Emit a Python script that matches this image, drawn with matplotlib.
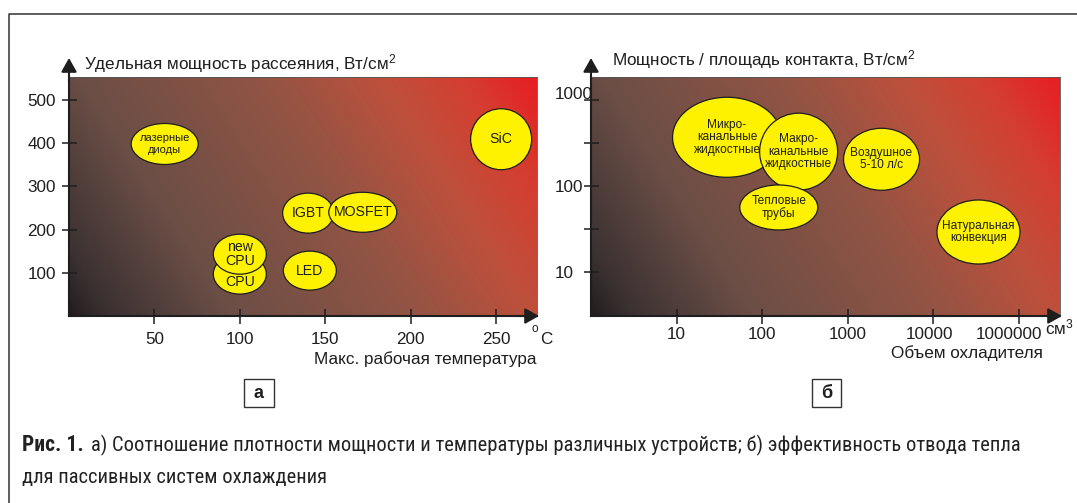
import numpy as np
import matplotlib
matplotlib.use("Agg")
import matplotlib.pyplot as plt
from matplotlib.patches import Ellipse, Rectangle
from matplotlib.lines import Line2D
from matplotlib.transforms import ScaledTranslation
from matplotlib.colors import LinearSegmentedColormap
from matplotlib import font_manager

# ---------------- data ----------------
# (a) power density vs. max operating temperature
temp_ticks = [50, 100, 150, 200, 250]
density_ticks = [100, 200, 300, 400, 500]
devices = ["лазерные\nдиоды", "SiC", "IGBT", "MOSFET", "CPU", "new\nCPU", "LED"]
device_temp = [56, 253, 140, 172, 100, 100, 141]
device_density = [398, 409, 238, 240, 97, 143, 105]

# (b) heat flux vs. coolant volume
volume_ticks = [10, 100, 1000, 10000, 100000]
volume_labels = ["10", "100", "1000", "10000", "1000000"]
flux_ticks = [10, 100, 1000]
flux_minor = [10 ** 1.5, 10 ** 2.5]
coolers = ["Микро-\nканальные\nжидкостные", "Макро-\nканальные\nжидкостные",
           "Тепловые\nтрубы", "Воздушное\n5-10 л/с", "Натуральная\nконвекция"]
cooler_volume = [39, 268, 157, 2500, 34000]
cooler_flux = [368, 250, 56, 204, 29]

caption_bold = "Рис. 1."
caption_line1 = "а) Соотношение плотности мощности и температуры различных устройств; б) эффективность отвода тепла"
caption_line2 = "для пассивных систем охлаждения"

# ---------------- styles ----------------
W, H = 1077, 503
DPI = 100
FONT = "Liberation Sans"
plt.rcParams["font.family"] = [FONT, "DejaVu Sans"]
plt.rcParams["mathtext.fontset"] = "custom"
plt.rcParams["mathtext.rm"] = FONT
plt.rcParams["mathtext.it"] = FONT + ":italic"
plt.rcParams["mathtext.bf"] = FONT + ":bold"

INK = "#1e1e1e"
YELLOW = "#fff200"
FS = 12.3

# bubble sizes in pixels (width, height)
device_w = [67, 61, 51, 68, 53, 53, 53]
device_h = [41, 61, 40, 40, 40, 40, 39]
device_fs = [8.0, 10.2, 10.2, 10.2, 10.2, 10.2, 10.2]
device_dy = [0, 0, 0, 0, -5.5, 0, 0]
device_ls = [1.15, 1, 1, 1, 1, 1.05, 1]
cooler_w = [109, 78, 78, 76, 83]
cooler_h = [80, 77, 45, 62, 64]

grad = LinearSegmentedColormap.from_list("heat", [
    (0.00, (35 / 255, 28 / 255, 30 / 255)),
    (0.07, (60 / 255, 50 / 255, 50 / 255)),
    (0.26, (107 / 255, 78 / 255, 70 / 255)),
    (0.55, (145 / 255, 84 / 255, 68 / 255)),
    (0.75, (190 / 255, 80 / 255, 60 / 255)),
    (0.88, (212 / 255, 62 / 255, 48 / 255)),
    (1.00, (232 / 255, 30 / 255, 34 / 255)),
])


def fbox(l, t, r, b):
    return [l / W, 1 - b / H, (r - l) / W, (b - t) / H]


def fx(px):
    return px / W


def fy(py):
    return 1 - py / H


fig = plt.figure(figsize=(W / DPI, H / DPI), dpi=DPI)
fig.patch.set_facecolor("white")


def gradient_background(rect):
    bg = fig.add_axes(rect, zorder=0)
    u = np.linspace(0, 1, 500)[None, :]
    v = np.linspace(0, 1, 260)[:, None]
    t = 0.754 * u + 0.246 * v
    bg.imshow(t, cmap=grad, vmin=0, vmax=1, origin="lower", aspect="auto",
              extent=(0, 1, 0, 1), interpolation="bilinear")
    bg.set_axis_off()


def style_axes(ax):
    ax.set_facecolor("none")
    for s in ("top", "right"):
        ax.spines[s].set_color("#555555")
        ax.spines[s].set_linewidth(0.6)
    for s in ("left", "bottom"):
        ax.spines[s].set_color(INK)
        ax.spines[s].set_linewidth(1.5)
    ax.tick_params(which="both", direction="inout", length=10.8, width=1.1,
                   color=INK, labelsize=FS, labelcolor=INK)
    ax.tick_params(which="minor", length=10.8)
    arrow = dict(arrowstyle="-|>,head_length=0.8,head_width=0.45",
                 color=INK, lw=1.5, mutation_scale=10.5, shrinkA=0, shrinkB=0)
    ax.annotate("", xy=(0, 1 + 19 / 239), xytext=(0, 0.98),
                xycoords="axes fraction", arrowprops=arrow, annotation_clip=False)
    ax.annotate("", xy=(1 + 2 / 468, 0), xytext=(0.96, 0),
                xycoords="axes fraction", arrowprops=arrow, annotation_clip=False)


def bubble(ax, x, y, wpx, hpx, label, fs, z, dy=0, ls=1.05):
    tr = fig.dpi_scale_trans + ScaledTranslation(x, y, ax.transData)
    e = Ellipse((0, 0), wpx / DPI, hpx / DPI, transform=tr, facecolor=YELLOW,
                edgecolor=INK, linewidth=0.9, zorder=z, clip_on=False)
    ax.add_artist(e)
    ax.annotate(label, xy=(x, y), xytext=(0, dy), textcoords="offset points",
                ha="center", va="center", fontsize=fs, color=INK,
                linespacing=ls, zorder=z + 1, annotation_clip=False)


def nudge(label, dx_px, dy_px):
    label.set_transform(label.get_transform() +
                        ScaledTranslation(dx_px / DPI, dy_px / DPI, fig.dpi_scale_trans))


# ---------------- panel (a) ----------------
rect_a = fbox(69, 77, 537, 316)
gradient_background(rect_a)
ax_a = fig.add_axes(rect_a, zorder=1)
style_axes(ax_a)
ax_a.set_xlim(0, 274)
ax_a.set_ylim(0, 553)
ax_a.set_xticks(temp_ticks)
ax_a.set_yticks(density_ticks)
ax_a.tick_params(axis="x", pad=6.0)
ax_a.tick_params(axis="y", pad=4)

for i, (lab, x, y) in enumerate(zip(devices, device_temp, device_density)):
    bubble(ax_a, x, y, device_w[i], device_h[i], lab, device_fs[i], 2 + 2 * i,
           dy=device_dy[i], ls=device_ls[i])

fig.text(fx(84), fy(69), "Удельная мощность рассеяния, Вт/см$^2$",
         ha="left", va="baseline", fontsize=FS, color=INK)
fig.text(fx(537), fy(364), "Макс. рабочая температура",
         ha="right", va="baseline", fontsize=FS, color=INK)
fig.text(fx(532), fy(329), "o", ha="left", va="center", fontsize=8.5, color=INK)
fig.text(fx(540), fy(343.5), "C", ha="left", va="baseline", fontsize=FS, color=INK)

# ---------------- panel (b) ----------------
rect_b = fbox(591, 77, 1060, 316)
gradient_background(rect_b)
ax_b = fig.add_axes(rect_b, zorder=1)
ax_b.set_xscale("log")
ax_b.set_yscale("log")
style_axes(ax_b)
ax_b.set_xlim(1, 10 ** 5.485)
ax_b.set_ylim(10 ** 0.484, 10 ** 3.268)
ax_b.set_xticks(volume_ticks)
ax_b.set_xticklabels(volume_labels)
ax_b.xaxis.set_minor_locator(matplotlib.ticker.NullLocator())
ax_b.set_yticks(flux_ticks)
ax_b.set_yticklabels([str(v) for v in flux_ticks])
ax_b.set_yticks(flux_minor, minor=True)
ax_b.yaxis.set_minor_formatter(matplotlib.ticker.NullFormatter())
ax_b.tick_params(axis="x", pad=2.5)
ax_b.tick_params(axis="y", which="major", pad=20.5)
for lbl in ax_b.get_yticklabels():
    lbl.set_horizontalalignment("left")
xlabels_b = ax_b.get_xticklabels()
nudge(xlabels_b[3], -4, 0)
nudge(xlabels_b[4], -10, 0)
nudge(ax_b.get_yticklabels()[2], 0, 7)

for i, (lab, x, y) in enumerate(zip(coolers, cooler_volume, cooler_flux)):
    bubble(ax_b, x, y, cooler_w[i], cooler_h[i], lab, 8.6, 2 + 2 * i, ls=1.05)

fig.text(fx(612), fy(65.5), "Мощность / площадь контакта, Вт/см$^2$",
         ha="left", va="baseline", fontsize=FS, color=INK)
fig.text(fx(1043), fy(358), "Объем охладителя",
         ha="right", va="baseline", fontsize=FS, color=INK)
fig.text(fx(1045), fy(334), "см$^3$", ha="left", va="baseline",
         fontsize=FS, color=INK)

# ---------------- panel tags ----------------
for (l, r), tag in (((244, 273.5), "а"), ((812, 840.5), "б")):
    fig.patches.append(Rectangle((fx(l), fy(407)), (r - l) / W, 28 / H,
                                 transform=fig.transFigure, facecolor="white",
                                 edgecolor="#333333", linewidth=1.0))
    fig.text(fx((l + r) / 2), fy(393), tag, ha="center", va="center",
             fontsize=13, fontweight="bold", color=INK)

# ---------------- frame ----------------
fig.lines.append(Line2D([fx(8.5), fx(8.5), fx(1080)], [fy(505), fy(13.7), fy(13.7)],
                        transform=fig.transFigure, color="#333333", linewidth=1.1))

# ---------------- caption ----------------
available = {f.name for f in font_manager.fontManager.ttflist}
narrow = next((n for n in ["Liberation Sans Narrow", "Roboto Condensed",
                           "Open Sans Condensed", "Noto Sans Condensed",
                           "Arial Narrow"] if n in available), "Roboto")
renderer = fig.canvas.get_renderer()
CAP = "#222222"

# size the caption so the first line spans the frame width
cap1 = fig.text(fx(104), fy(445), caption_line1, ha="left", va="center",
                fontsize=12, family=[narrow, "DejaVu Sans"], color=CAP)
w1 = cap1.get_window_extent(renderer).width
cap_fs = 12 * (1030 - 104) / w1
cap1.set_fontsize(cap_fs)

cap_bold = fig.text(fx(22), fy(445), caption_bold, ha="left", va="center",
                    fontsize=cap_fs * 1.05, fontweight="bold",
                    family=[narrow, "DejaVu Sans"], color=CAP)
bw = cap_bold.get_window_extent(renderer).width
cap1.set_x(fx(22 + bw + 7))

cap2 = fig.text(fx(22), fy(477), caption_line2, ha="left", va="center",
                fontsize=cap_fs, family=[narrow, "DejaVu Sans"], color=CAP)

fig.savefig("out.png", dpi=DPI)
